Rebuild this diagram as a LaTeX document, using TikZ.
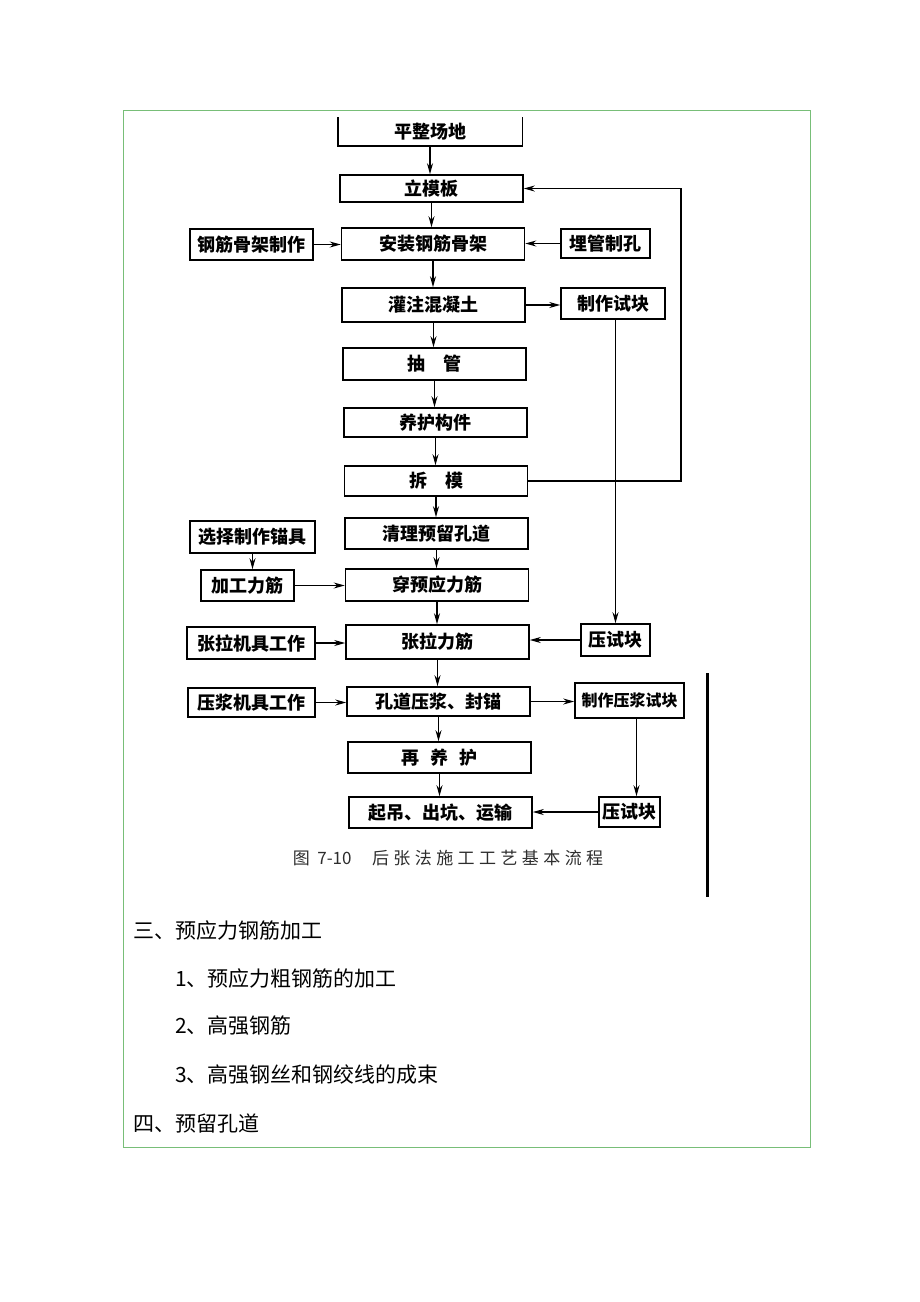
\documentclass[tikz,border=0pt]{standalone}
\usepackage{fontspec}
\usepackage{tikz}
\newfontfamily\cjk{Noto Sans CJK SC}
\newfontfamily\capfont[LetterSpace=26]{Noto Sans CJK SC}
\definecolor{framegreen}{RGB}{120,190,120}
\definecolor{capgray}{RGB}{45,45,45}
\usetikzlibrary{arrows.meta}

\tikzset{
  stepbox/.style={draw, line width=1.6pt, inner sep=0pt, font=\cjk\bfseries\fontsize{18}{21}\selectfont},
  mainbox/.style={stepbox, minimum width=183pt},
  flow/.style={line width=1.1pt, -{Stealth[length=11pt,width=6pt]}},
  bodytext/.style={anchor=west, inner sep=0pt, font=\cjk\fontsize{21}{24}\selectfont},
}

\begin{document}
\begin{tikzpicture}[x=1pt,y=-1pt]
\useasboundingbox (0,0) rectangle (920,1302);
\draw[framegreen, line width=1pt] (123,110) rectangle (810,1147);

% main column
\node[mainbox, draw=none, minimum height=27pt] (pzcd) at (430,131.5) {平整场地};
\draw[line width=1.6pt] (pzcd.north west) -- (pzcd.south west) -- (pzcd.south east) -- (pzcd.north east);
\node[mainbox, minimum height=27pt] (lmb) at (431.5,188.5) {立模板};
\node[mainbox, minimum height=32pt] (azgj) at (433,244) {安装钢筋骨架};
\node[mainbox, minimum height=34pt] (gzhnt) at (433.5,305) {灌注混凝土};
\node[mainbox, minimum height=32pt] (cg) at (434.5,364) {抽\hspace{1em}管};
\node[mainbox, minimum height=29pt] (yhgj) at (435.5,422.5) {养护构件};
\node[mainbox, minimum height=30pt] (cm) at (436,481) {拆\hspace{1em}模};
\node[mainbox, minimum height=31pt] (qlkd) at (436.5,533.5) {清理预留孔道};
\node[mainbox, minimum height=32pt] (cyyl) at (437,585) {穿预应力筋};
\node[mainbox, minimum height=34pt] (zllj) at (437.5,642) {张拉力筋};
\node[mainbox, minimum height=29pt] (kdyj) at (438.5,701.5) {孔道压浆、封锚};
\node[mainbox, minimum height=31pt] (zyh) at (439.5,757.5) {再\hspace{0.6em}养\hspace{0.6em}护};
\node[mainbox, minimum height=31pt] (qdys) at (440.5,812.5) {起吊、出坑、运输};

% left column
\node[stepbox, minimum width=123pt, minimum height=31pt] (gjzz) at (251.5,244.5) {钢筋骨架制作};
\node[stepbox, minimum width=125pt, minimum height=32pt] (xzmj) at (252.5,537) {选择制作锚具};
\node[stepbox, minimum width=93pt, minimum height=31pt] (jglj) at (247.5,585.5) {加工力筋};
\node[stepbox, minimum width=128pt, minimum height=32pt] (zljj) at (251,643) {张拉机具工作};
\node[stepbox, minimum width=127pt, minimum height=29pt] (yjjj) at (251.5,702.5) {压浆机具工作};

% right column
\node[stepbox, minimum width=89pt, minimum height=29pt] (mgzk) at (605.5,243.5) {埋管制孔};
\node[stepbox, minimum width=104pt, minimum height=31pt] (zzsk) at (613,303.5) {制作试块};
\node[stepbox, minimum width=69pt, minimum height=32pt] (ysk) at (615.5,640) {压试块};
\node[stepbox, minimum width=109pt, minimum height=35pt, font=\cjk\bfseries\fontsize{16}{19}\selectfont] (zzyjsk) at (629.5,700.5) {制作压浆试块};
\node[stepbox, minimum width=61pt, minimum height=30pt] (yskb) at (629.5,812) {压试块};

% main chain
\foreach \a/\b in {pzcd/lmb, lmb/azgj, azgj/gzhnt, gzhnt/cg, cg/yhgj, yhgj/cm, cm/qlkd,
                   qlkd/cyyl, cyyl/zllj, zllj/kdyj, kdyj/zyh, zyh/qdys}
  \draw[flow] (\a.south) -- (\a.south |- \b.north);

% side arrows
\draw[flow] (gjzz.east) -- (gjzz.east -| azgj.west);
\draw[flow] (mgzk.west) -- (mgzk.west -| azgj.east);
\draw[flow] (gzhnt.east) -- (gzhnt.east -| zzsk.west);
\draw[flow] (xzmj.south) -- (xzmj.south |- jglj.north);
\draw[flow] (jglj.east) -- (jglj.east -| cyyl.west);
\draw[flow] (zljj.east) -- (zljj.east -| zllj.west);
\draw[flow] (ysk.west) -- (ysk.west -| zllj.east);
\draw[flow] (yjjj.east) -- (yjjj.east -| kdyj.west);
\draw[flow] (kdyj.east) -- (kdyj.east -| zzyjsk.west);
\draw[flow] (yskb.west) -- (yskb.west -| qdys.east);
\draw[flow] (zzsk.south -| ysk.north) -- (ysk.north);
\draw[flow] ([xshift=7pt]zzyjsk.south) -- ([xshift=7pt]yskb.north);

% return loop
\coordinate (loop) at (681,481);
\draw[flow] (cm.east) -- (loop) |- (lmb.east);

% scan edge
\draw[line width=3pt] (707,673) -- (707,897);

\node[inner sep=0pt, text=capgray, font=\cjk\fontsize{17}{20}\selectfont] (cap) at (448,858)
  {图\hspace{0.45em}7-10\hspace{1.2em}{\capfont 后张法施工工艺基本流程}};

% text below
\node[bodytext] (s3) at (133,930) {三、预应力钢筋加工};
\node[bodytext] (s31) at (175,978) {1、预应力粗钢筋的加工};
\node[bodytext] (s32) at (175,1026) {2、高强钢筋};
\node[bodytext] (s33) at (175,1075) {3、高强钢丝和钢绞线的成束};
\node[bodytext] (s4) at (133,1123) {四、预留孔道};
\end{tikzpicture}
\end{document}
